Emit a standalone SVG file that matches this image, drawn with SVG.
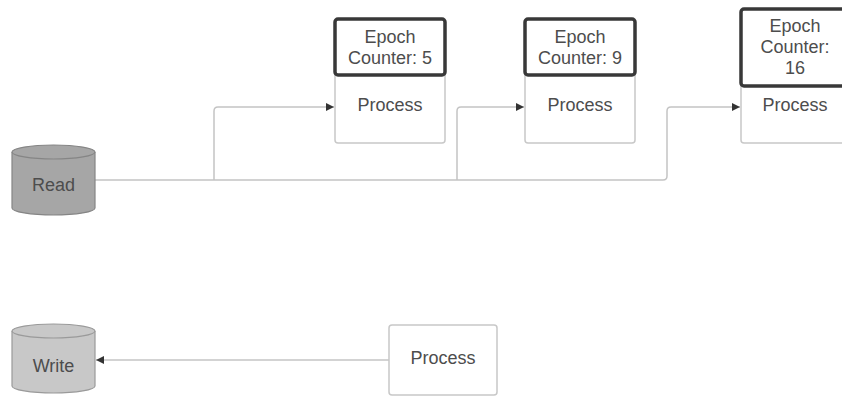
<svg xmlns="http://www.w3.org/2000/svg" width="842" height="396" viewBox="0 0 842 396">
  <style>
    .bg { fill: #ffffff; }
    .label { font-family: "Liberation Sans", Arial, sans-serif; font-size: 18px; fill: #4d4d4d; text-anchor: middle; }
    .proc { fill: #ffffff; stroke: #c8c8c8; stroke-width: 1.5; }
    .epoch { fill: #ffffff; stroke: #383838; stroke-width: 3.5; }
    .db-read { fill: #a6a6a6; stroke: #858585; stroke-width: 1.2; }
    .db-write { fill: #c8c8c8; stroke: #9a9a9a; stroke-width: 1.2; }
    .wire { fill: none; stroke: #c4c4c4; stroke-width: 1.5; }
  </style>
  <defs>
    <marker id="arrow" viewBox="0 0 10 10" refX="10" refY="5" markerWidth="11" markerHeight="8" markerUnits="userSpaceOnUse" orient="auto">
      <path d="M0,0 L10,5 L0,10 Z" fill="#333333"/>
    </marker>
  </defs>

  <rect class="bg" x="0" y="0" width="842" height="396"/>

  <!-- connectors -->
  <g id="connectors">
    <path class="wire" d="M95,180 H663 Q667,180 667,176 V111 Q667,107 671,107 H740" marker-end="url(#arrow)"/>
    <path class="wire" d="M214,180 V111 Q214,107 218,107 H334" marker-end="url(#arrow)"/>
    <path class="wire" d="M457,180 V111 Q457,107 461,107 H524" marker-end="url(#arrow)"/>
    <path class="wire" d="M389,360 H96" marker-end="url(#arrow)"/>
  </g>

  <!-- read store -->
  <g id="read">
    <path class="db-read" d="M12,152 A41.5,7 0 0 1 95,152 V208 A41.5,7 0 0 1 12,208 Z"/>
    <path class="db-read" d="M12,152 A41.5,7 0 0 0 95,152"/>
    <text class="label" x="53.5" y="191">Read</text>
  </g>

  <!-- worker 1 -->
  <g id="worker1">
    <rect class="proc" x="335" y="19" width="110" height="124" rx="3"/>
    <rect class="epoch" x="335" y="19" width="110" height="56" rx="3"/>
    <text class="label" x="390" y="43">Epoch</text>
    <text class="label" x="390" y="64">Counter: 5</text>
    <text class="label" x="390" y="111">Process</text>
  </g>

  <!-- worker 2 -->
  <g id="worker2">
    <rect class="proc" x="525" y="19" width="110" height="124" rx="3"/>
    <rect class="epoch" x="525" y="19" width="110" height="56" rx="3"/>
    <text class="label" x="580" y="43">Epoch</text>
    <text class="label" x="580" y="64">Counter: 9</text>
    <text class="label" x="580" y="111">Process</text>
  </g>

  <!-- worker 3 -->
  <g id="worker3">
    <rect class="proc" x="741" y="9" width="110" height="134" rx="3"/>
    <rect class="epoch" x="741" y="9" width="110" height="77" rx="3"/>
    <text class="label" x="795" y="32">Epoch</text>
    <text class="label" x="795" y="53">Counter:</text>
    <text class="label" x="795" y="74">16</text>
    <text class="label" x="795" y="111">Process</text>
  </g>

  <!-- writer -->
  <g id="writer">
    <rect class="proc" x="389" y="325" width="108" height="70" rx="3"/>
    <text class="label" x="443" y="364">Process</text>
  </g>

  <!-- write store -->
  <g id="write">
    <path class="db-write" d="M12,331 A41.5,7 0 0 1 95,331 V386 A41.5,7 0 0 1 12,386 Z"/>
    <path class="db-write" d="M12,331 A41.5,7 0 0 0 95,331"/>
    <text class="label" x="53.5" y="372">Write</text>
  </g>
</svg>
